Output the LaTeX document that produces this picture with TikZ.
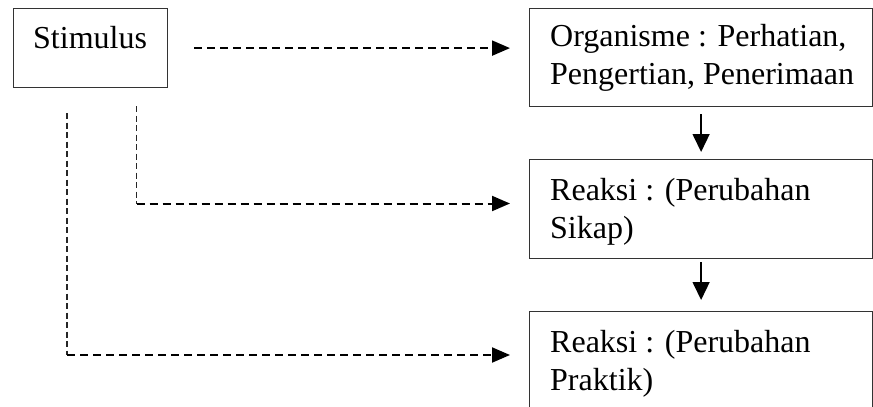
\documentclass[tikz,border=0pt]{standalone}
\usepackage{fontspec}
\setmainfont{Liberation Serif}
\usetikzlibrary{arrows.meta}
\begin{document}
\begin{tikzpicture}[x=1pt,y=-1pt,
  boxstyle/.style={draw=black!80,line width=1.2pt,rectangle,inner sep=0pt,anchor=north west},
  txt/.style={inner sep=0pt,anchor=north west,align=left,font=\fontsize{32}{38}\selectfont},
  solidarrow/.style={line width=1.5pt,-{Triangle[length=18pt,width=17pt]}},
  dasharrow/.style={line width=2pt,dash pattern=on 8pt off 5pt,-{Triangle[length=18pt,width=15pt]}},
  dashthin/.style={line width=1.5pt,black!85,dash pattern=on 6pt off 3.5pt}]
\useasboundingbox (0,0) rectangle (873,407);
\clip (0,0) rectangle (873,407);
% boxes
\node[boxstyle,minimum width=154pt,minimum height=79pt] (stim) at (13,8) {};
\node[boxstyle,minimum width=343pt,minimum height=98pt] (org) at (529,8) {};
\node[boxstyle,minimum width=343pt,minimum height=99pt] (r1) at (529,159) {};
\node[boxstyle,minimum width=343pt,minimum height=99pt] (r2) at (529,311) {};
% texts
\node[txt] (stimtxt) at (33,21.4) {\strut Stimulus};
\node[txt] (orgtxt) at (550,19.4) {\strut Organisme : Perhatian,\\Pengertian, Penerimaan};
\node[txt] (r1txt) at (550,173.4) {\strut Reaksi : (Perubahan\\Sikap)};
\node[txt] (r2txt) at (550,325.4) {\strut Reaksi : (Perubahan\\Praktik)};
% solid arrows
\draw[solidarrow,shorten <=7pt,shorten >=7pt] (org.south) -- (r1.north);
\draw[solidarrow,shorten <=3pt,shorten >=11pt] (r1.south) -- (r2.north);
% dashed connectors
\draw[dasharrow,shorten <=26pt,shorten >=19pt] (stim.east) -- (org.west |- stim.east);
\coordinate (a1) at (136.5,106);
\coordinate (e1) at (136.5,203.5);
\coordinate (a2) at (67,113);
\coordinate (e2) at (67,355);
\draw[dashthin] (a1) -- (e1);
\draw[dashthin] (a2) -- (e2);
\draw[dasharrow,shorten >=19pt] (e1) -- (e1 -| r1.west);
\draw[dasharrow,shorten >=19pt] (e2) -- (e2 -| r2.west);
\end{tikzpicture}
\end{document}
